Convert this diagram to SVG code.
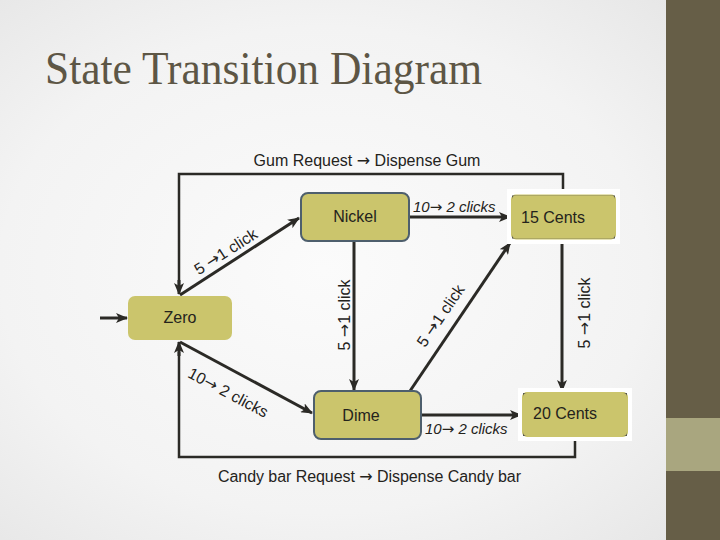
<svg xmlns="http://www.w3.org/2000/svg" width="720" height="540" viewBox="0 0 720 540">
<defs>
<radialGradient id="bg" cx="0.45" cy="0.5" r="0.75">
<stop offset="0" stop-color="#fbfbfb"/>
<stop offset="0.6" stop-color="#f3f3f3"/>
<stop offset="1" stop-color="#e4e4e4"/>
</radialGradient>
<marker id="ah" markerUnits="userSpaceOnUse" markerWidth="12" markerHeight="10" refX="11" refY="5" orient="auto">
<path d="M0,0 L12,5 L0,10 L3,5 Z" fill="#2b2a26"/>
</marker>
<clipPath id="c15"><rect x="512" y="195.5" width="103" height="43"/></clipPath>
<clipPath id="c20"><rect x="523" y="393" width="104" height="43"/></clipPath>
</defs>
<style>
.conn{fill:none;stroke:#2b2a26;stroke-width:3;marker-end:url(#ah)}
.loop{fill:none;stroke:#2b2a26;stroke-width:2.5}
.box{fill:#cbc56c}
.bord{stroke:#4e5f6d;stroke-width:2}
.t{font-family:"Liberation Sans",Arial,sans-serif;font-size:16px;fill:#24231c}
.lab{font-family:"Liberation Sans",Arial,sans-serif;font-size:15px;fill:#24231c}
.it{font-style:italic}
.ar{font-family:"DejaVu Sans",sans-serif}
</style>
<rect x="0" y="0" width="720" height="540" fill="url(#bg)"/>
<rect x="666" y="0" width="54" height="540" fill="#665e47"/>
<rect x="666" y="418" width="54" height="53" fill="#a9a67f"/>
<text x="45" y="84" font-family="'Liberation Serif','Times New Roman',serif" font-size="47" fill="#5d5645" textLength="437" lengthAdjust="spacingAndGlyphs">State Transition Diagram</text>
<text class="t" x="367" y="166" text-anchor="middle" font-size="15.5">Gum Request <tspan class="ar">→</tspan> Dispense Gum</text>
<text class="t" x="369.5" y="482" text-anchor="middle" textLength="303">Candy bar Request <tspan class="ar">→</tspan> Dispense Candy bar</text>
<g id="connectors">
<path class="loop" d="M563,192 V174 H179 V285"/>
<path class="conn" d="M179,280 V294" />
<path class="loop" d="M575,437 V457 H179 V352"/>
<path class="conn" d="M179,356 V342"/>
<path class="conn" d="M100,318 H127"/>
<path class="conn" d="M180,295 L299,218"/>
<path class="conn" d="M409,217 H510"/>
<path class="conn" d="M354,241 V390"/>
<path class="conn" d="M180,342 L312,413"/>
<path class="conn" d="M410,391 L510,243"/>
<path class="conn" d="M421,415 H521"/>
<path class="conn" d="M562,240 V391"/>
<text class="t" font-size="17" transform="translate(226,252) rotate(-33)" y="5" text-anchor="middle">5 <tspan class="ar">→</tspan>1 click</text>
<text class="lab it" x="413" y="212">10<tspan class="ar">→</tspan> 2 clicks</text>
<text class="t" transform="translate(345,315) rotate(-90)" y="5" text-anchor="middle">5 <tspan class="ar">→</tspan>1 click</text>
<text class="t" transform="translate(441,316) rotate(-55.7)" y="5" text-anchor="middle">5 <tspan class="ar">→</tspan>1 click</text>
<text class="t" font-size="17" transform="translate(228,393) rotate(28)" y="5" text-anchor="middle">10<tspan class="ar">→</tspan> 2 clicks</text>
<text class="t" transform="translate(585,313) rotate(-90)" y="5" text-anchor="middle">5 <tspan class="ar">→</tspan>1 click</text>
<text class="lab it" x="425" y="434">10<tspan class="ar">→</tspan> 2 clicks</text>
</g>
<g id="zero">
<rect class="box" x="128" y="296" width="104" height="44" rx="7"/>
<text class="t" x="180" y="323" text-anchor="middle">Zero</text>
</g>
<g id="nickel">
<rect class="box bord" x="301" y="193" width="108" height="48" rx="7"/>
<text class="t" x="355" y="222" text-anchor="middle">Nickel</text>
</g>
<g id="dime">
<rect class="box bord" x="314" y="391" width="107" height="48" rx="7"/>
<text class="t" x="361" y="421" text-anchor="middle">Dime</text>
</g>
<g id="cents15">
<rect x="507" y="189" width="113" height="55" fill="#ffffff"/>
<rect class="box" x="511" y="194.5" width="105" height="45" rx="5"/>
<rect x="511" y="194.5" width="105" height="45" rx="5" fill="none" stroke="#55554a" stroke-width="2" clip-path="url(#c15)"/>
<text class="t" x="521" y="223">15 Cents</text>
</g>
<g id="cents20">
<rect x="518" y="388" width="114" height="53" fill="#ffffff"/>
<rect class="box" x="522" y="392" width="106" height="45" rx="5"/>
<rect x="522" y="392" width="106" height="45" rx="5" fill="none" stroke="#55554a" stroke-width="2" clip-path="url(#c20)"/>
<text class="t" x="533" y="419">20 Cents</text>
</g>
</svg>
